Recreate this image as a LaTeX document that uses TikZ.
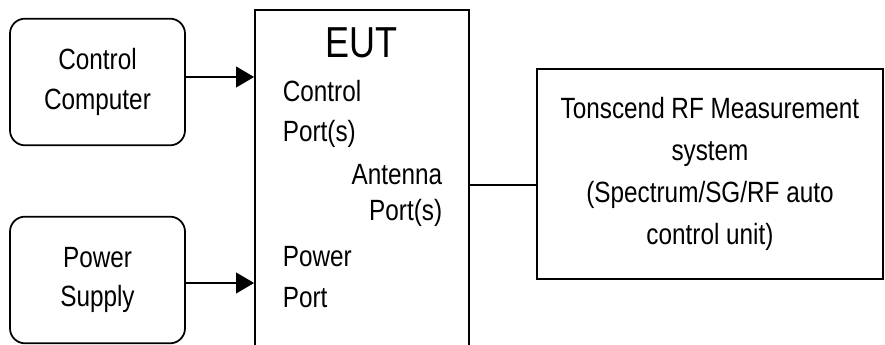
\documentclass[tikz,border=0pt]{standalone}
\usepackage{fontspec}
\setmainfont{Liberation Sans}[FakeStretch=0.83]
\usetikzlibrary{arrows.meta, positioning}

\begin{document}
\begin{tikzpicture}[x=0.03cm, y=0.03cm, font=\fontsize{25}{34}\selectfont, line width=1.5pt,
    unitbox/.style={draw, rounded corners=0.45cm, minimum width=5.25cm, minimum height=3.8cm, align=center},
    portlabel/.style={inner sep=0pt},
    feed/.style={-{Triangle[length=0.54cm, width=0.62cm]}}]
        \useasboundingbox (0,0) rectangle (885,345);

        % Sources
        \node[unitbox] (cc) at (97.5,263) {Control\\Computer};
        \node[unitbox] (ps) at (97.5,65) {Power\\Supply};

        % EUT
        \node[draw, minimum width=6.42cm, minimum height=10.5cm] (eut) at (362,160) {};
        \node[font=\fontsize{37}{40}\selectfont, anchor=base] (eutname) at (361.5,287) {EUT};
        \node[portlabel, anchor=base west] (ctl1) at (282,243) {Control};
        \node[portlabel, anchor=base west] (ctl2) at (282,203) {Port(s)};
        \node[portlabel, anchor=base east] (ant1) at (443,160) {Antenna};
        \node[portlabel, anchor=base east] (ant2) at (443,124) {Port(s)};
        \node[portlabel, anchor=base west] (pwr1) at (282,78) {Power};
        \node[portlabel, anchor=base west] (pwr2) at (282,37) {Port};

        % Measurement system
        \node[draw, minimum width=10.38cm, minimum height=6.3cm, align=center,
              font=\fontsize{25}{36}\selectfont] (meas) at (710,171)
              {Tonscend RF Measurement\\system\\(Spectrum/SG/RF auto\\control unit)};

        % Connections
        \coordinate (ccout) at ([yshift=0.15cm]cc.east);
        \coordinate (psout) at ([yshift=-0.09cm]ps.east);
        \draw[feed] (ccout) -- (ccout -| eut.west);
        \draw[feed] (psout) -- (psout -| eut.west);
        \draw (eut.east) -- (eut.east -| meas.west);
\end{tikzpicture}
\end{document}
